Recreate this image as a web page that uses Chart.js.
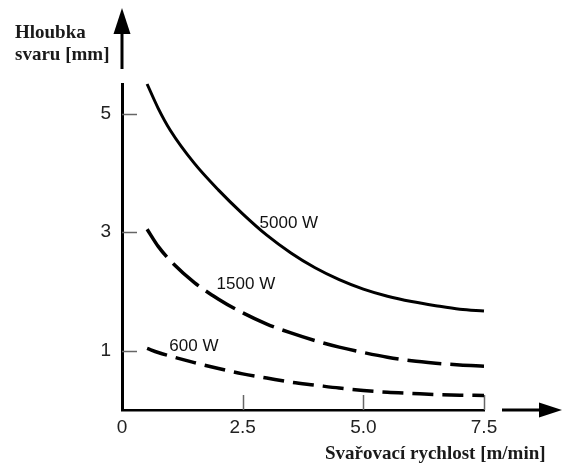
<!DOCTYPE html>
<html>
<head>
<meta charset="utf-8">
<script src="https://cdn.jsdelivr.net/npm/chart.js"></script>
<style>
  html, body { margin: 0; padding: 0; background: #fff; }
</style>
</head>
<body>
<canvas id="myChart" width="563" height="464"></canvas>
<script>
// welding speed [m/min] and weld depth [mm]
const speeds = [0.52, 0.75, 1, 1.5, 2, 2.5, 3, 3.5, 4, 4.5, 5, 5.5, 6, 6.5, 7, 7.5];
const depth5000 = [5.50, 5.09, 4.72, 4.16, 3.71, 3.31, 2.95, 2.65, 2.40, 2.20, 2.04, 1.92, 1.83, 1.76, 1.70, 1.67];
const depth1500 = [3.05, 2.76, 2.52, 2.15, 1.87, 1.64, 1.45, 1.30, 1.17, 1.06, 0.97, 0.89, 0.83, 0.79, 0.76, 0.74];
const depth600 = [1.04, 0.97, 0.91, 0.80, 0.70, 0.61, 0.54, 0.47, 0.42, 0.37, 0.33, 0.30, 0.28, 0.26, 0.25, 0.245];

const seriesNames = ['5000 W', '1500 W', '600 W'];
const xTicks = [0, 2.5, 5, 7.5];
const xTickLabels = ['0', '2.5', '5.0', '7.5'];
const yTicks = [1, 3, 5];
const yTickLabels = ['1', '3', '5'];

// where each curve name sits (data units, left / baseline)
const nameX = [2.85, 1.96, 0.98];
const nameY = [3.07, 2.04, 1.0];

function toPoints(ys) {
    return speeds.map((s, i) => ({ x: s, y: ys[i] }));
}

function drawArrow(ctx, x1, y1, x2, y2, head, half) {
    const ang = Math.atan2(y2 - y1, x2 - x1);
    const bx = x2 - head * Math.cos(ang);
    const by = y2 - head * Math.sin(ang);
    ctx.beginPath();
    ctx.moveTo(x1, y1);
    ctx.lineTo(bx, by);
    ctx.stroke();
    ctx.beginPath();
    ctx.moveTo(x2, y2);
    ctx.lineTo(bx + half * Math.sin(ang), by - half * Math.cos(ang));
    ctx.lineTo(bx - half * Math.sin(ang), by + half * Math.cos(ang));
    ctx.closePath();
    ctx.fill();
}

const decorations = {
    id: 'decorations',
    beforeDatasetsDraw(chart) {
        const ctx = chart.ctx;
        const xs = chart.scales.x;
        const ys = chart.scales.y;
        const left = xs.getPixelForValue(0);
        const bottom = ys.getPixelForValue(0);
        ctx.save();
        // short ticks pointing into the plot
        ctx.strokeStyle = '#666';
        ctx.lineWidth = 1.5;
        yTicks.forEach(v => {
            const py = Math.round(ys.getPixelForValue(v)) + 0.5;
            ctx.beginPath();
            ctx.moveTo(left, py);
            ctx.lineTo(left + 15, py);
            ctx.stroke();
        });
        xTicks.slice(1).forEach(v => {
            const px = Math.round(xs.getPixelForValue(v)) + 0.5;
            ctx.beginPath();
            ctx.moveTo(px, bottom);
            ctx.lineTo(px, bottom - 15);
            ctx.stroke();
        });
        ctx.restore();
    },
    afterDraw(chart) {
        const ctx = chart.ctx;
        const area = chart.chartArea;
        const xs = chart.scales.x;
        const ys = chart.scales.y;
        ctx.save();
        ctx.strokeStyle = '#000';
        ctx.fillStyle = '#000';
        ctx.lineWidth = 3;
        drawArrow(ctx, area.left, area.top - 15, area.left, area.top - 76, 26, 8.5);
        drawArrow(ctx, area.right + 18, area.bottom, area.right + 78, area.bottom, 23, 7.5);

        ctx.fillStyle = '#111';
        ctx.textAlign = 'left';
        ctx.textBaseline = 'alphabetic';
        ctx.font = '17px "Liberation Sans", Arial, sans-serif';
        seriesNames.forEach((n, i) => {
            ctx.fillText(n, xs.getPixelForValue(nameX[i]), ys.getPixelForValue(nameY[i]));
        });

        ctx.fillStyle = '#1a1a1a';
        ctx.font = 'bold 19px "Liberation Serif", "Times New Roman", serif';
        ctx.fillText('Hloubka', 15, 38);
        ctx.fillText('svaru [mm]', 15, 60);
        ctx.fillText('Svařovací rychlost [m/min]', 325, 459);
        ctx.restore();
    }
};

function mainEvent() {
    Chart.defaults.font.family = '"Liberation Sans", Arial, sans-serif';
    Chart.defaults.font.size = 19;
    Chart.defaults.color = '#222';

    const ctx = document.querySelector('#myChart');

    new Chart(ctx, {
        type: 'scatter',
        data: {
            datasets: [
                {
                    label: seriesNames[0],
                    data: toPoints(depth5000),
                    borderWidth: 3
                },
                {
                    label: seriesNames[1],
                    data: toPoints(depth1500),
                    borderWidth: 3.5,
                    borderDash: [34, 9]
                },
                {
                    label: seriesNames[2],
                    data: toPoints(depth600),
                    borderWidth: 3.5,
                    borderDash: [21, 9]
                }
            ].map(d => Object.assign({
                showLine: true,
                borderColor: '#000',
                pointRadius: 0,
                cubicInterpolationMode: 'monotone',
                clip: false
            }, d))
        },
        options: {
            responsive: false,
            animation: false,
            layout: { padding: { top: 84, right: 79, left: 0, bottom: 0 } },
            plugins: {
                legend: { display: false },
                tooltip: { enabled: false }
            },
            scales: {
                x: {
                    type: 'linear',
                    min: 0,
                    max: 7.5,
                    afterBuildTicks: axis => { axis.ticks = xTicks.map(v => ({ value: v })); },
                    afterFit: axis => { axis.height = 54; },
                    grid: { display: false, drawTicks: false },
                    border: { display: true, color: '#000', width: 2.5 },
                    ticks: {
                        padding: 6,
                        maxRotation: 0,
                        callback: v => xTickLabels[xTicks.indexOf(v)]
                    }
                },
                y: {
                    type: 'linear',
                    min: 0,
                    max: 5.5,
                    afterBuildTicks: axis => { axis.ticks = yTicks.map(v => ({ value: v })); },
                    afterFit: axis => { axis.width = 122; },
                    grid: { display: false, drawTicks: false },
                    border: { display: true, color: '#000', width: 3 },
                    ticks: {
                        padding: 11,
                        callback: v => yTickLabels[yTicks.indexOf(v)]
                    }
                }
            }
        },
        plugins: [decorations]
    });
}

document.addEventListener('DOMContentLoaded', () => mainEvent());
</script>
</body>
</html>
